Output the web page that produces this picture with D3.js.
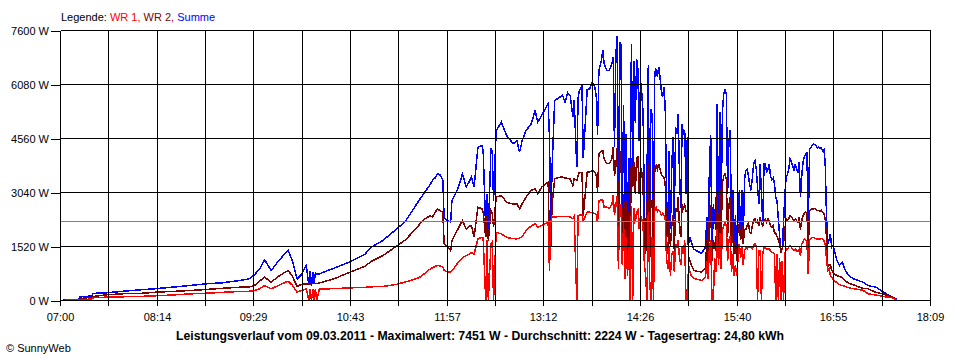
<!DOCTYPE html>
<html><head><meta charset="utf-8">
<script src="https://cdn.jsdelivr.net/npm/d3@7"></script>
<style>
body{margin:0;background:#fff;}
svg{display:block;font-family:"Liberation Sans",Arial,sans-serif;}
</style></head><body>
<svg id="c" width="960" height="360"></svg>
<script>
const times = ["07:00","07:05","07:14","07:15","07:24","07:25","07:35","07:48","08:01","08:14","08:26","08:39","08:52","09:05","09:18","09:25","09:29","09:33","09:37","09:42","09:48","09:55","09:58","10:02","10:05","10:09","10:11","10:12","10:13","10:14","10:15","10:16","10:17","10:19","10:31","10:42","10:54","10:59","11:08","11:18","11:25","11:31","11:36","11:40","11:44","11:46","11:48","11:50","11:52","11:54","11:55","11:58","12:00","12:01","12:05","12:07","12:09","12:12","12:15","12:16","12:18","12:21","12:24","12:25","12:27","12:28","12:29","12:31","12:32","12:33","12:35","12:39","12:43","12:45","12:48","12:51","12:53","12:55","12:58","13:02","13:05","13:07","13:10","13:12","13:15","13:16","13:17","13:18","13:20","13:24","13:26","13:28","13:30","13:32","13:34","13:35","13:37","13:38","13:39","13:41","13:42","13:45","13:47","13:49","13:51","13:52","13:53","13:54","13:56","13:57","13:58","14:00","14:02","14:04","14:05","14:06","14:07","14:08","14:09","14:10","14:11","14:12","14:13","14:14","14:15","14:16","14:17","14:18","14:19","14:20","14:21","14:22","14:23","14:24","14:25","14:26","14:27","14:28","14:29","14:30","14:31","14:32","14:33","14:34","14:35","14:36","14:37","14:38","14:39","14:40","14:41","14:42","14:43","14:44","14:45","14:46","14:47","14:48","14:49","14:50","14:51","14:52","14:53","14:54","14:55","14:56","14:57","14:58","14:59","15:00","15:01","15:02","15:03","15:04","15:05","15:07","15:10","15:13","15:16","15:17","15:18","15:19","15:20","15:21","15:22","15:23","15:24","15:25","15:26","15:27","15:28","15:29","15:30","15:31","15:32","15:33","15:34","15:35","15:36","15:37","15:38","15:39","15:40","15:41","15:42","15:43","15:44","15:45","15:46","15:47","15:48","15:49","15:50","15:51","15:52","15:53","15:54","15:55","15:56","15:57","15:58","15:59","16:00","16:01","16:02","16:03","16:04","16:05","16:06","16:07","16:08","16:09","16:10","16:11","16:12","16:13","16:14","16:15","16:16","16:17","16:18","16:19","16:20","16:21","16:22","16:23","16:24","16:25","16:26","16:27","16:28","16:29","16:30","16:31","16:32","16:33","16:34","16:35","16:36","16:37","16:38","16:39","16:40","16:41","16:42","16:43","16:44","16:45","16:46","16:47","16:48","16:49","16:50","16:51","16:52","16:53","16:54","16:55","16:57","16:59","17:01","17:02","17:03","17:06","17:10","17:17","17:21","17:27","17:31","17:35","17:39","17:43"];
const wr1 = [0,10,10,25,40,75,95,105,115,135,155,185,205,230,255,260,280,330,420,330,430,545,440,235,280,330,0,310,0,310,0,320,0,320,335,355,370,385,395,450,520,580,650,760,880,920,960,985,975,940,845,800,800,830,1030,1125,1200,1265,1315,1350,1300,1735,1780,1760,0,1700,0,1595,1650,0,1920,1875,1780,1760,1740,1735,1760,1800,1970,2100,2160,2065,2110,2150,2205,845,2200,2345,2345,2370,2360,2370,2370,2350,2300,2370,0,2390,2400,2420,2250,2485,2485,2470,2450,2400,2205,2815,2830,2830,2625,2625,2600,2700,2955,2400,2650,2950,900,2700,2700,1000,2200,600,1800,700,1500,0,2650,0,2600,2200,2500,2550,2000,2400,2300,2100,1000,700,0,2500,600,0,1800,0,2600,2625,2500,2550,2500,2400,2450,2400,2300,1200,900,1500,700,1300,1400,800,1600,1500,1700,1200,1000,1500,1300,1700,0,0,1000,800,700,620,590,565,650,1100,600,1500,1700,0,0,1200,800,2000,1000,1900,900,2000,2100,2200,2100,1100,1700,1800,800,1300,700,1000,700,1200,1600,1200,1500,1000,1400,1500,1450,1500,1500,1500,1450,1550,1600,1550,0,1400,1400,0,1300,1500,1500,1450,1450,1450,1400,1350,1350,1300,0,1300,0,1200,0,1100,0,1300,1450,1450,1500,1550,1500,1450,1400,1450,1400,1380,1450,1250,1600,1650,1735,1700,1650,750,1700,1750,1780,1780,1760,1740,1730,1740,1730,1750,1720,1690,1600,1200,845,900,700,650,600,565,500,450,420,410,400,360,330,290,190,150,130,100,80,10];
const wr2 = [0,10,20,55,90,110,160,190,200,235,255,280,310,345,375,380,420,545,655,515,690,845,700,395,450,470,470,470,460,480,470,480,480,490,620,790,960,1100,1265,1520,1700,1930,2140,2290,2380,2350,2480,2580,2520,2485,1600,1500,1400,1690,1970,2110,2250,2015,2100,2110,1780,2625,2580,2500,1780,2400,1690,2530,2450,2065,2910,2955,2770,2740,2720,2720,2580,2720,2910,3100,3145,3005,3190,3250,3330,1600,1500,2700,3425,3470,3470,3450,3440,3420,3240,3430,3380,3500,3610,3600,2390,3610,3620,3660,3600,3520,3050,4130,4200,4220,3990,3850,3850,3990,4315,3500,3780,4300,1690,4200,4150,1500,3000,1200,2800,1100,2500,1400,4000,3200,3900,3000,4000,4035,3000,3750,3600,3200,1500,1320,2500,3850,1000,2800,2800,1200,3700,3800,3700,3850,3700,3550,3500,3450,3300,1700,1300,2300,1500,2100,2400,1400,2600,2500,2900,2000,1800,2700,2600,2700,2500,2500,1220,1125,1000,845,820,800,900,1700,900,2400,2700,1100,1700,1500,1400,3000,1500,3100,1800,3300,3500,3565,3400,1800,2700,2900,1500,2200,1300,1700,1100,2100,2160,1700,2100,1600,2000,2000,2100,2200,1920,1900,2100,2250,2300,2200,2250,2100,2345,2200,2100,2250,2280,2200,2300,2250,2100,2050,2100,1900,1900,1800,1700,1600,1350,1450,1600,2000,2300,2250,2300,2400,2350,2300,2250,2300,2250,2200,2350,2000,2250,2400,2450,2485,2480,1410,2530,2550,2580,2580,2590,2570,2530,2540,2500,2540,2480,2450,2300,1800,940,1000,1000,850,800,750,700,670,655,620,580,480,440,340,330,230,200,150,110,20];
const summe = [0,20,30,100,130,200,215,260,300,335,375,420,470,500,565,610,720,880,1145,845,1130,1410,1150,610,720,985,430,820,420,800,470,780,750,750,920,1080,1300,1500,1690,2000,2224,2550,2835,3040,3250,3380,3450,3570,3530,3380,2310,2250,2200,2815,3100,3300,3570,3190,3400,3470,3190,4315,4360,4220,1970,3010,1885,4280,4200,2815,4785,5020,4645,4560,4410,4500,4175,4500,4785,4975,5350,5020,5210,5350,5540,4600,2065,3715,5630,5725,5780,5580,5850,5760,5160,5630,3750,5680,5910,6050,4000,5930,5960,6145,6000,5725,4645,6475,6755,7040,6665,6475,6475,6665,6850,4315,6850,7451,1780,7270,7200,2500,5500,1800,4700,1600,4000,2200,7230,3500,6755,5000,6800,6500,4500,6190,5820,5260,2500,1410,3500,6615,1600,5400,5200,1780,6400,6525,6285,6570,6285,5900,5725,6000,5440,3000,1780,4220,2000,3700,4600,2300,4880,4700,5260,3500,2600,4975,4700,4780,3000,4600,1600,1780,1650,1450,1380,1330,1500,2345,1125,3800,4645,1125,2720,2300,2000,5540,1970,5300,2500,5300,5820,5930,5820,3000,4500,4785,1800,3100,1600,2400,1330,2400,3100,1800,3100,1690,3400,3660,3700,3500,3250,3100,3450,3850,3940,3700,3200,2720,3850,3000,2200,3850,3850,3600,3700,3850,3500,3400,3450,3300,2900,2800,2300,1800,1410,1450,2200,3000,3470,3550,3700,3990,3900,3800,3660,3850,3700,3600,3900,2910,3500,3900,4035,4130,4150,1970,4250,4300,4360,4410,4390,4360,4300,4330,4280,4300,4220,4250,3900,2440,1595,1700,1875,1500,1550,1410,1125,985,1080,1000,890,700,610,515,420,375,280,190,110,40];
const xTickLabels = ["07:00","08:14","09:29","10:43","11:57","13:12","14:26","15:40","16:55","18:09"];
const yTicks = [0,1520,3040,4560,6080,7600];
const average = 2224;
const seriesNames = ["WR 1","WR 2","Summe"];
const seriesColors = ["#ff0000","#800000","#0000ff"];
const legendLabel = "Legende:";
const title = "Leistungsverlauf vom 09.03.2011 - Maximalwert: 7451 W - Durchschnitt: 2224 W - Tagesertrag: 24,80 kWh";
const copyright = "\u00A9 SunnyWeb";

const parse = d3.timeParse("%H:%M");
const t0 = parse(xTickLabels[0]), t1 = parse(xTickLabels[xTickLabels.length-1]);
const x = d3.scaleTime().domain([t0, t1]).range([60.5, 930.5]);
const y = d3.scaleLinear().domain([0, 7600]).range([300.5, 30.5]);
const svg = d3.select("#c");

const dates = times.map(parse);
const series = [summe, wr2, wr1];
const colors = [seriesColors[2], seriesColors[1], seriesColors[0]];
const line = d3.line().x(d => x(d[0])).y(d => y(d[1]));
series.forEach((s, i) => {
  svg.append("path")
    .datum(dates.map((d, j) => [d, s[j]]))
    .attr("d", line)
    .attr("fill", "none")
    .attr("stroke", colors[i])
    .attr("stroke-width", 1.5)
    .attr("stroke-linejoin", "miter")
    .attr("shape-rendering", "crispEdges");
});

// average line
svg.append("line")
  .attr("x1", 60.5).attr("x2", 930.5)
  .attr("y1", Math.round(y(average) - 0.5) + 0.5).attr("y2", Math.round(y(average) - 0.5) + 0.5)
  .attr("stroke", "#808080").attr("shape-rendering", "crispEdges");

// grid
const nGrid = (xTickLabels.length - 1) * 2;
const gridTimes = d3.range(nGrid + 1).map(k => new Date(+t0 + k * (t1 - t0) / nGrid));
const gx = d => Math.round(x(d) - 0.5) + 0.5;
svg.append("g").selectAll("line").data(gridTimes).join("line")
  .attr("x1", gx).attr("x2", gx).attr("y1", 30.5).attr("y2", 300.5)
  .attr("stroke", "#000").attr("shape-rendering", "crispEdges");
svg.append("g").selectAll("line").data(yTicks).join("line")
  .attr("x1", 60.5).attr("x2", 930.5).attr("y1", d => y(d)).attr("y2", d => y(d))
  .attr("stroke", "#000").attr("shape-rendering", "crispEdges");

// axes
const xAxis = d3.axisBottom(x).tickValues(gridTimes).tickSize(5)
  .tickFormat((d, i) => i % 2 === 0 ? xTickLabels[i / 2] : "");
const gX = svg.append("g").attr("transform", "translate(0,300)").call(xAxis);
gX.select(".domain").remove();
gX.selectAll(".tick").attr("transform", d => `translate(${gx(d)},0)`);
gX.selectAll(".tick line").attr("stroke", "#000").attr("y1", 0.5).attr("y2", 5.5).attr("shape-rendering", "crispEdges");
gX.selectAll(".tick text").attr("y", 21).attr("dy", 0).attr("fill", "#000")
  .style("font-size", "11px").style("font-family", "'Liberation Sans',Arial,sans-serif");

const yAxis = d3.axisLeft(y).tickValues(yTicks).tickSize(9).tickPadding(2).tickFormat(d => d + " W");
const gY = svg.append("g").attr("transform", "translate(60,0)").call(yAxis);
gY.select(".domain").remove();
gY.selectAll(".tick line").attr("stroke", "#000").attr("shape-rendering", "crispEdges");
gY.selectAll(".tick text").attr("fill", "#000").attr("dy", "0.36em")
  .style("font-size", "11px").style("font-family", "'Liberation Sans',Arial,sans-serif");

// legend
const leg = svg.append("text").attr("x", 61).attr("y", 21).style("font-size", "11px");
leg.append("tspan").attr("fill", "#000").text(legendLabel + " ");
seriesNames.forEach((n, i) => {
  leg.append("tspan").attr("fill", seriesColors[i]).text(n + (i < seriesNames.length - 1 ? ", " : ""));
});

// title
svg.append("text").attr("x", 480).attr("y", 340).attr("text-anchor", "middle")
  .style("font-size", "12px").style("font-weight", "bold")
  .attr("textLength", 608).attr("lengthAdjust", "spacingAndGlyphs")
  .text(title);

svg.append("text").attr("x", 6).attr("y", 352).style("font-size", "11px").text(copyright);
</script>
</body></html>
